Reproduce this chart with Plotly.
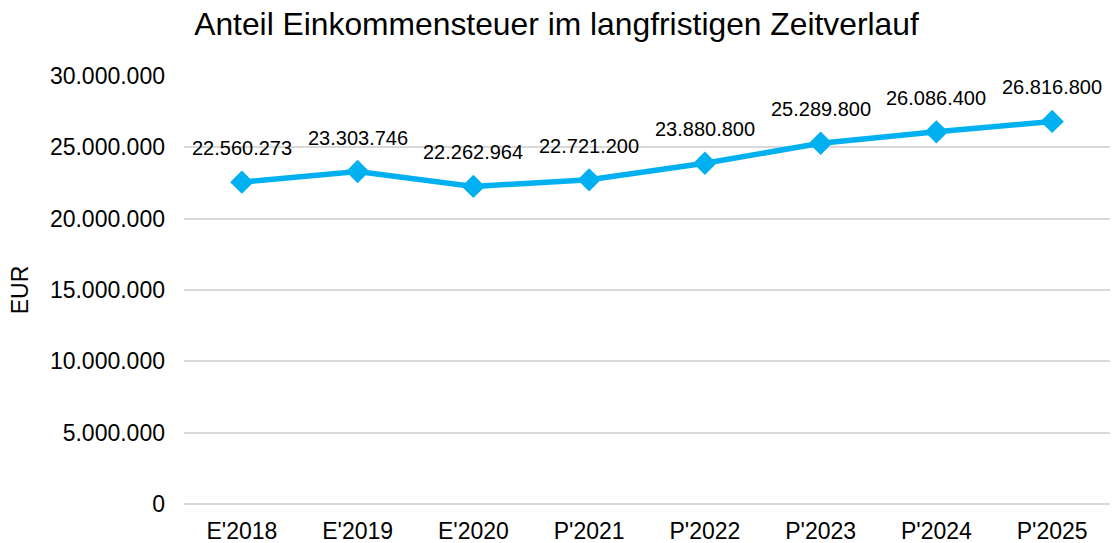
import plotly.graph_objects as go

categories = ["E'2018", "E'2019", "E'2020", "P'2021", "P'2022", "P'2023", "P'2024", "P'2025"]
values = [22560273, 23303746, 22262964, 22721200, 23880800, 25289800, 26086400, 26816800]
y_ticks = [0, 5000000, 10000000, 15000000, 20000000, 25000000, 30000000]

FONT = "Liberation Sans, Arial"

def fmt(v):
    return f"{v:,}".replace(",", ".")

fig = go.Figure()
fig.add_trace(go.Scatter(
    x=categories, y=values, mode="lines+markers",
    line=dict(color="#00B0F0", width=5.5),
    marker=dict(symbol="diamond", size=18, color="#00B0F0"),
    hoverinfo="skip",
))
for c, v in zip(categories, values):
    fig.add_annotation(x=c, y=v, text=fmt(v), showarrow=False, yshift=34,
                       font=dict(family=FONT, size=20, color="#000000"))

fig.update_layout(
    width=1113, height=543,
    margin=dict(l=184, r=3, t=76, b=39),
    paper_bgcolor="white", plot_bgcolor="white",
    showlegend=False,
    title=dict(text="Anteil Einkommensteuer im langfristigen Zeitverlauf",
               x=0.5, xref="container", xanchor="center",
               y=1 - 24 / 543, yref="container", yanchor="middle",
               font=dict(family=FONT, size=31.8, color="#000000")),
    font=dict(family=FONT, size=23, color="#000000"),
)
fig.update_xaxes(showgrid=False, showline=False, ticks="", tickfont=dict(size=23),
                 range=[-0.5, 7.5], ticklabelstandoff=11, automargin=False)
fig.update_yaxes(range=[0, 30000000], tickvals=y_ticks,
                 ticktext=[fmt(t) for t in y_ticks],
                 showgrid=True, gridcolor="#d9d9d9", gridwidth=1.5,
                 zeroline=True, zerolinecolor="#d9d9d9", zerolinewidth=1.5,
                 showline=False, ticks="", tickfont=dict(size=23),
                 ticklabelstandoff=18, automargin=False,
                 title=dict(text="EUR", font=dict(size=23), standoff=14))

fig.write_html("out.html", config={"displayModeBar": False},
               post_script="document.body.style.margin='0';")
